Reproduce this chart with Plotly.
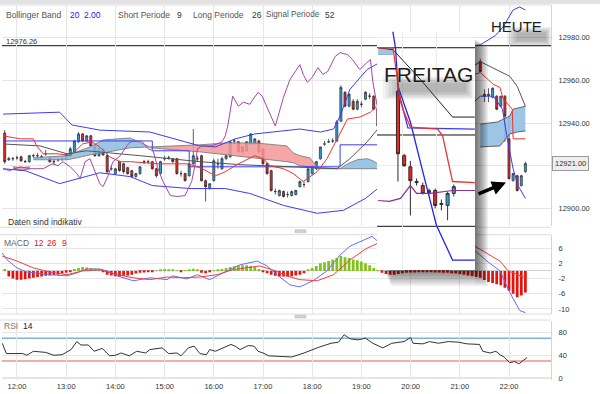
import pandas as pd
import plotly.graph_objects as go

FONT = "Liberation Sans, Arial, sans-serif"
DAY = "2013-01-07"
FRIDAY = "2013-01-04"
W, H = 600, 394

# ---------------- main price panel: 5-minute candles 11:45 .. 19:20 ----------------
cndl_open = [12935.3, 12922.8, 12923.3, 12923.7, 12924.2, 12921.9, 12921.9, 12924.7, 12924.7, 12924.2,
             12925.6, 12923.7, 12921.9, 12922.8, 12923.3, 12923.3, 12924.7, 12926.5, 12931.2, 12934.9,
             12931.6, 12934.0, 12929.3, 12924.7, 12927.9, 12924.7, 12918.6, 12916.3, 12921.9, 12920.9,
             12919.1, 12917.7, 12914.9, 12916.3, 12921.4, 12921.9, 12921.9, 12918.6, 12916.3, 12923.3,
             12923.7, 12923.3, 12923.3, 12916.3, 12916.3, 12915.3, 12920.9, 12923.3, 12924.7, 12913.0,
             12909.3, 12913.0, 12920.9, 12918.6, 12923.3, 12924.2, 12931.6, 12931.2, 12928.8, 12927.0,
             12930.2, 12930.2, 12931.6, 12927.9, 12920.9, 12917.7, 12907.9, 12906.0, 12907.9, 12906.5,
             12906.0, 12906.5, 12910.2, 12911.2, 12912.6, 12916.3, 12918.6, 12923.3, 12930.2, 12931.2,
             12931.6, 12931.6, 12940.9, 12954.4, 12947.9, 12950.2, 12946.5, 12948.8, 12951.2, 12952.6,
             12952.6, 12946.5]
cndl_high = [12936.7, 12924.2, 12924.2, 12924.7, 12924.7, 12922.8, 12925.1, 12925.6, 12926.0, 12925.1,
             12927.4, 12924.2, 12922.8, 12923.7, 12924.2, 12925.6, 12928.8, 12932.1, 12935.8, 12935.3,
             12934.4, 12934.4, 12929.8, 12928.8, 12928.4, 12925.6, 12920.0, 12918.6, 12922.3, 12921.4,
             12919.5, 12918.1, 12916.7, 12919.5, 12922.8, 12922.8, 12922.3, 12919.1, 12922.3, 12924.7,
             12924.7, 12923.7, 12923.7, 12917.7, 12916.7, 12920.9, 12937.2, 12924.7, 12925.1, 12913.5,
             12911.6, 12923.3, 12923.3, 12924.2, 12925.6, 12931.6, 12932.6, 12931.6, 12929.3, 12931.6,
             12935.3, 12932.6, 12932.1, 12928.4, 12921.4, 12918.1, 12909.3, 12908.8, 12908.4, 12907.9,
             12908.4, 12908.8, 12913.0, 12912.6, 12918.6, 12920.0, 12922.3, 12928.8, 12931.6, 12932.6,
             12933.0, 12941.4, 12957.7, 12954.9, 12954.0, 12951.2, 12951.2, 12950.2, 12954.9, 12954.0,
             12953.0, 12947.0]
cndl_low = [12920.9, 12922.3, 12922.3, 12922.8, 12921.9, 12921.4, 12921.4, 12923.7, 12923.7, 12923.3,
            12924.7, 12921.4, 12920.5, 12921.9, 12922.3, 12922.8, 12924.2, 12926.0, 12930.7, 12931.2,
            12931.2, 12928.8, 12924.2, 12924.2, 12924.7, 12916.3, 12917.7, 12915.8, 12917.2, 12916.3,
            12915.8, 12914.4, 12914.4, 12915.8, 12920.9, 12920.9, 12918.1, 12914.4, 12915.8, 12922.3,
            12922.8, 12921.4, 12915.8, 12914.9, 12912.6, 12914.9, 12920.5, 12921.9, 12912.6, 12903.3,
            12908.8, 12912.6, 12918.6, 12918.1, 12922.8, 12923.7, 12930.2, 12926.0, 12926.0, 12926.5,
            12929.8, 12929.8, 12926.0, 12920.5, 12915.8, 12907.9, 12906.5, 12905.6, 12905.1, 12905.1,
            12905.6, 12906.0, 12909.8, 12909.8, 12912.1, 12915.8, 12918.1, 12922.8, 12929.3, 12930.7,
            12930.7, 12931.2, 12940.5, 12947.4, 12947.4, 12946.0, 12946.0, 12947.4, 12950.7, 12951.2,
            12946.0, 12938.1]
cndl_close = [12921.9, 12923.3, 12923.3, 12923.7, 12922.3, 12921.9, 12924.7, 12924.7, 12924.7, 12924.2,
              12925.6, 12921.9, 12921.9, 12922.8, 12923.3, 12925.6, 12927.9, 12931.6, 12934.9, 12931.6,
              12934.0, 12929.3, 12924.7, 12927.9, 12925.1, 12917.2, 12918.6, 12918.6, 12917.7, 12917.2,
              12916.3, 12914.9, 12916.3, 12919.5, 12921.9, 12921.9, 12918.6, 12915.3, 12921.9, 12923.3,
              12923.7, 12921.9, 12916.3, 12916.3, 12913.0, 12920.9, 12924.7, 12923.3, 12913.0, 12910.2,
              12911.6, 12922.3, 12920.9, 12923.3, 12924.7, 12931.2, 12931.6, 12926.5, 12926.5, 12931.2,
              12934.9, 12932.6, 12926.5, 12920.9, 12916.3, 12908.4, 12907.9, 12908.4, 12905.6, 12906.5,
              12907.9, 12908.4, 12912.6, 12911.2, 12918.6, 12920.0, 12921.9, 12928.8, 12930.2, 12931.2,
              12931.6, 12940.5, 12956.7, 12947.9, 12953.5, 12946.5, 12950.2, 12948.8, 12954.4, 12952.6,
              12946.5, 12938.6]

# today's last hour, 21:25 .. 22:20
heute_open = [12968.8, 12953.5, 12953.5, 12952.1, 12952.6, 12947.9, 12952.6, 12932.6, 12913.0, 12915.3, 12910.7, 12917.2]
heute_high = [12970.2, 12955.8, 12956.3, 12956.7, 12953.0, 12952.6, 12953.0, 12943.3, 12916.7, 12915.8, 12915.8, 12921.9]
heute_low = [12963.7, 12949.8, 12949.8, 12951.6, 12946.0, 12947.4, 12931.2, 12913.5, 12912.6, 12907.9, 12910.2, 12916.7]
heute_close = [12964.2, 12952.6, 12953.0, 12956.3, 12946.5, 12952.6, 12943.3, 12914.0, 12916.3, 12908.4, 12915.3, 12921.0]

# Bollinger band (20, 2.00)
upper_t = ["11:43", "12:52", "13:07", "13:41", "14:42", "15:13", "15:43", "16:02", "16:26", "16:50", "17:45", "18:10",
           "18:26", "18:34", "18:46", "19:07", "19:20", "21:25", "21:43", "21:53", "22:05", "22:13", "22:20"]
upper_v = [12944.2, 12945.1, 12939.1, 12936.7, 12935.8, 12932.6, 12929.3, 12928.8, 12932.6, 12934.9, 12937.2, 12935.8,
           12937.2, 12943.3, 12955.8, 12965.1, 12967.9, 12976.7, 12980.9, 12985.1, 12993.0, 12994.4, 12993.0]
lower_t = ["11:43", "12:10", "12:52", "13:41", "14:18", "14:45", "15:31", "16:14", "16:44", "17:25", "18:06", "18:38",
           "19:05", "19:20", "21:25", "21:41", "21:52", "21:58", "22:05", "22:11", "22:20"]
lower_v = [12918.6, 12917.7, 12911.6, 12916.7, 12914.9, 12910.7, 12909.3, 12909.3, 12907.0, 12901.4, 12897.7, 12899.1,
           12904.7, 12909.3, 12952.6, 12952.6, 12946.5, 12932.6, 12918.6, 12910.7, 12904.7]
mid_t = ["11:43", "12:28", "13:01", "13:25", "14:30", "15:43", "16:32", "17:45", "18:30", "18:46", "19:07", "19:20",
         "21:25", "21:49", "22:01", "22:10", "22:20"]
mid_v = [12930.2, 12929.3, 12925.6, 12927.0, 12924.7, 12921.9, 12920.5, 12919.5, 12918.6, 12923.3, 12931.2, 12937.2,
         12968.8, 12964.2, 12961.9, 12957.2, 12947.9]

# Ichimoku lines (short 9 / long 26 / signal 52)
tenkan_t = ["11:43", "12:04", "12:20", "12:24", "12:32", "12:50", "13:05", "13:20", "13:31", "13:41", "13:53", "14:06",
            "14:18", "14:52", "15:29", "15:46", "16:02", "16:14", "16:30", "16:50", "17:00", "17:09", "17:25", "17:37",
            "17:49", "18:06", "18:18", "18:30", "18:43", "18:58", "19:11", "19:17", "19:20",
            "21:25", "21:41", "21:49", "21:53", "22:04", "22:05", "22:20"]
tenkan_v = [12934.0, 12932.6, 12932.6, 12929.3, 12925.6, 12925.6, 12924.7, 12930.2, 12931.2, 12928.8, 12924.2, 12921.9,
            12921.9, 12920.9, 12920.9, 12918.6, 12915.3, 12917.2, 12920.9, 12924.7, 12923.3, 12920.0, 12918.6, 12916.3,
            12912.6, 12917.2, 12923.3, 12932.6, 12941.9, 12942.8, 12945.1, 12947.4, 12946.5,
            12963.7, 12958.1, 12956.7, 12951.2, 12946.5, 12932.6, 12932.6]
kijun_t = ["11:43", "14:45", "15:30", "18:34", "19:20"]
kijun_v = [12931.6, 12927.0, 12919.5, 12929.8, 12929.8]
chikou_t = ["11:43", "11:51", "12:04", "12:16", "12:32", "12:43", "12:50", "12:56", "13:05", "13:13",
            "13:17", "13:23", "13:29", "13:35", "13:41", "13:45", "13:51", "13:57", "14:06", "14:14",
            "14:18", "14:32", "14:40", "14:46", "14:52", "14:58", "15:07", "15:16", "15:25", "15:33",
            "15:37", "15:40", "15:46", "15:58", "16:10", "16:14", "16:17", "16:23", "16:30", "16:36",
            "16:44", "16:48", "16:54", "16:59", "17:15", "17:25", "17:33", "17:45", "17:49", "17:54",
            "18:00", "18:07", "18:13", "18:19", "18:28", "18:34", "18:43", "18:49", "18:58", "19:07",
            "19:11", "19:14", "19:20"]
chikou_v = [12918.6, 12917.7, 12919.5, 12918.6, 12918.6, 12920.9, 12920.0, 12921.9, 12919.5, 12916.3,
            12914.0, 12921.9, 12923.3, 12917.2, 12911.6, 12910.2, 12915.3, 12921.9, 12924.7, 12929.3,
            12931.2, 12931.6, 12927.9, 12927.0, 12918.6, 12912.6, 12906.0, 12905.6, 12906.0, 12912.6,
            12920.0, 12927.9, 12929.3, 12929.3, 12931.2, 12934.0, 12938.6, 12952.6, 12947.9, 12949.8,
            12948.8, 12951.2, 12954.4, 12952.6, 12938.6, 12952.1, 12960.5, 12967.4, 12962.8, 12959.1,
            12961.4, 12966.0, 12962.8, 12964.2, 12971.2, 12973.0, 12972.1, 12969.8, 12965.1, 12968.4,
            12969.8, 12959.1, 12946.5]

# cloud segments (bottom / top edges)
red0_t = ["11:55", "12:05", "12:16"]
red0_bot = [12918.6, 12917.7, 12918.6]
red0_top = [12919.5, 12919.1, 12919.5]
blue1_t = ["12:20", "13:01", "13:13", "13:29", "13:45", "14:18", "14:42"]
blue1_bot = [12922.8, 12922.8, 12923.7, 12925.1, 12926.0, 12928.4, 12928.8]
blue1_top = [12923.7, 12924.7, 12926.5, 12928.8, 12932.1, 12933.0, 12928.8]
red1_t = ["14:42", "15:19", "15:43", "16:16", "16:50", "17:29", "17:37", "17:45", "17:57", "18:06"]
red1_bot = [12928.4, 12927.4, 12926.5, 12925.1, 12923.7, 12921.9, 12921.4, 12920.0, 12919.5, 12919.1]
red1_top = [12928.8, 12929.3, 12929.8, 12930.7, 12930.7, 12929.3, 12926.0, 12924.7, 12923.7, 12919.5]
blue2_t = ["18:06", "18:20", "18:34", "18:43", "18:55", "19:07", "19:14", "19:20"]
blue2_bot = [12918.6, 12918.6, 12918.6, 12918.6, 12918.6, 12918.6, 12918.6, 12918.6]
blue2_top = [12919.1, 12918.8, 12918.6, 12920.9, 12922.8, 12923.3, 12922.3, 12920.9]
blue3_bot_t = ["21:25", "21:49", "22:01", "22:10", "22:20"]
blue3_bot = [12928.8, 12929.3, 12934.9, 12935.8, 12936.3]
blue3_top_t = ["21:25", "21:46", "22:01", "22:05", "22:20"]
blue3_top = [12939.5, 12940.5, 12943.3, 12946.5, 12947.9]

# ---------------- MACD (12, 26, 9) ----------------
macd_t = ["11:42", "11:48", "12:00", "12:12", "12:40", "13:01", "13:13", "13:25", "13:41", "13:50", "14:02", "14:22",
          "14:42", "15:03", "15:10", "15:27", "15:40", "15:55", "16:16", "16:32", "16:53", "17:05", "17:17", "17:33",
          "17:45", "18:01", "18:18", "18:34", "18:46", "19:07", "19:13", "19:20",
          "21:19", "21:33", "21:49", "22:01", "22:13", "22:20"]
macd_v = [4.7, 2.9, 0.8, -0.3, -1.0, -1.3, -0.5, 0.5, 0.5, 0.0, -1.3, -2.6,
          -1.8, -2.3, -1.3, -2.1, -1.0, -2.3, 0.0, 1.6, 2.6, 1.3, -1.0, -3.7,
          -4.2, -2.6, 0.0, 4.2, 6.5, 8.6, 9.1, 7.8,
          5.2, 2.6, 0.0, -5.7, -10.4, -11.0]
signal_t = ["11:42", "12:00", "12:20", "12:40", "13:01", "13:20", "13:41", "14:02", "14:22", "14:42", "15:03", "15:23",
            "15:43", "16:04", "16:23", "16:56", "17:12", "17:29", "17:45", "18:06", "18:26", "18:46", "19:07", "19:20",
            "21:16", "21:33", "21:49", "21:59", "22:20"]
signal_v = [3.9, 2.6, 0.8, -0.3, -1.0, 0.0, 0.3, -1.0, -1.8, -2.3, -1.6, -1.8,
            -1.6, -1.0, 0.3, 1.3, 0.3, -1.3, -2.3, -2.6, -1.0, 2.9, 6.0, 7.3,
            6.8, 4.7, 2.6, 0.0, -1.8]
# histogram, one bar per 5-minute candle from 11:45 to 22:20
hist_v = [0.5, -1.5, -2.0, -2.3, -2.3, -2.2, -2.0, -1.8, -1.6, -1.5,
          -1.3, -1.2, -1.1, -1.0, -0.7, -0.5, -0.2, 0.5, 0.8, 1.0,
          0.9, 0.8, 0.6, 0.2, -0.2, -1.0, -1.2, -1.4, -1.5, -1.3,
          -1.2, -1.0, -0.7, -0.5, -0.4, -0.3, -0.2, 0.1, 0.2, 0.5,
          0.4, 0.3, 0.1, -0.1, 0.1, 0.4, 0.6, 0.2, -0.5, -0.6,
          -0.3, 0.05, 0.2, 0.5, 0.8, 1.0, 1.2, 1.4, 1.5, 1.5,
          1.3, 1.0, 0.5, -0.2, -0.6, -1.0, -1.3, -1.5, -1.5, -1.5,
          -1.4, -1.2, -1.0, -0.6, 0.3, 0.8, 1.3, 2.0, 2.3, 2.6,
          3.0, 3.4, 3.9, 3.6, 3.4, 3.0, 2.8, 2.5, 2.0, 1.5,
          0.8, 0.2,
          -0.5, -0.8, -1.0, -1.0, -0.8, -0.6, -0.5, -0.4, -0.4, -0.3,
          -0.3, -0.3, -0.3, -0.4, -0.4, -0.5, -0.5, -0.6, -0.7, -0.8,
          -1.0, -1.2, -1.4, -1.6,
          -1.8, -2.4, -2.9, -3.2, -3.5, -3.8, -4.4, -5.2, -6.0, -6.9, -6.5, -5.7]

# ---------------- RSI (14) ----------------
rsi_t = ["11:42", "11:47", "12:07", "12:12", "12:20", "12:35", "12:45", "12:55", "13:06",
         "13:13", "13:18", "13:27", "13:34", "13:44", "13:53", "14:00", "14:07", "14:17", "14:26",
         "14:37", "14:42", "14:57", "15:05", "15:15", "15:20", "15:29", "15:36", "15:43", "15:51",
         "15:55", "16:02", "16:11", "16:21", "16:26", "16:32", "16:42", "16:49", "16:54", "17:00",
         "17:07", "17:35", "17:50", "18:00", "18:08", "18:23", "18:32", "18:39", "18:46", "18:56",
         "19:05", "19:14", "19:26", "19:37", "19:52", "20:00", "20:03", "20:15", "20:23", "20:34",
         "20:46", "20:58", "21:09", "21:24", "21:28", "21:37", "21:44", "21:49", "21:54", "22:01",
         "22:07", "22:12", "22:22"]
rsi_v = [61, 43, 43, 40, 47, 45, 40, 41, 50,
         64, 58, 58, 47, 52, 39, 40, 44, 39, 47,
         44, 50, 53, 43, 44, 39, 53, 56, 43, 41,
         50, 47, 53, 59, 56, 50, 57, 56, 47, 44,
         39, 37, 44, 50, 54, 61, 63, 76, 69, 67,
         70, 61, 53, 61, 64, 71, 61, 60, 64, 61,
         64, 63, 60, 59, 47, 44, 47, 41, 37, 27,
         29, 25, 36]

# ---------------- FREITAG inset (Friday close-up) ----------------
fri_open = [12954.9, 12924.7, 12919.5, 12912.6, 12910.7, 12907.4, 12908.4, 12902.3, 12901.4, 12907.0]
fri_high = [12956.7, 12925.6, 12922.3, 12914.0, 12912.1, 12909.3, 12909.3, 12904.2, 12907.9, 12911.2]
fri_low = [12912.6, 12919.5, 12896.7, 12910.7, 12906.5, 12906.5, 12900.0, 12899.1, 12894.4, 12905.6]
fri_close = [12925.6, 12920.0, 12913.0, 12912.1, 12907.0, 12908.4, 12901.4, 12901.9, 12907.0, 12910.2]
fri_red_t = ["18:59", "19:11", "19:17", "19:19", "19:25", "19:47", "19:51", "19:59", "20:17"]
fri_red_v = [12975.3, 12975.3, 12950.2, 12946.5, 12938.1, 12937.2, 12934.0, 12912.6, 12912.1]
fri_lower_t = ["19:10", "19:13", "19:15", "19:25", "19:35", "19:46", "19:59", "20:17"]
fri_lower_v = [12986.0, 12975.3, 12957.2, 12940.5, 12917.2, 12892.1, 12875.8, 12875.8]
fri_kijun_t = ["19:15", "19:23", "20:17"]
fri_kijun_v = [12955.8, 12937.7, 12937.2]
fri_mid_t = ["18:59", "19:11", "19:33", "19:59", "20:17"]
fri_mid_v = [12975.3, 12974.4, 12960.5, 12942.8, 12942.8]
fri_chikou_t = ["18:59", "19:08", "19:17", "19:25", "19:30", "19:41", "19:59", "20:17"]
fri_chikou_v = [12903.7, 12903.3, 12904.7, 12910.7, 12907.0, 12907.0, 12908.4, 12908.4]
fri_cloud_t = ["18:59", "19:11"]
fri_cloud_bot = [12972.1, 12972.1]
fri_cloud_top = [12975.3, 12975.3]
fri_levels = [12975.3, 12934.4, 12891.6]

level_line = 12976.26
last_price = 12921.0
price_ticks = [12900, 12920, 12940, 12960, 12980]
price_ticktext = ["12900.00", "", "12940.00", "12960.00", "12980.00"]
macd_ticks = [-10, -6, -2, 2, 6]
rsi_ticks = [0, 40, 80]
time_ticks = ["12:00", "13:00", "14:00", "15:00", "16:00", "17:00", "18:00", "19:00", "20:00", "21:00", "22:00"]


def T(hms, day=DAY):
    return [f"{day} {h}" for h in hms]


def px(x):
    return x / W


def py(y):
    return 1 - y / H


fig = go.Figure()


def line(t, v, color, width=1.0, xa="x", ya="y", day=DAY, shape="linear"):
    fig.add_trace(go.Scatter(x=T(t, day), y=v, mode="lines", line=dict(color=color, width=width, shape=shape),
                             xaxis=xa, yaxis=ya, hoverinfo="skip", showlegend=False))


def cloud(tb, vb, tt, vt, fill, edge="#7d7d7d", xa="x", ya="y", day=DAY):
    fig.add_trace(go.Scatter(x=T(tb, day), y=vb, mode="lines", line=dict(color=edge, width=0.9),
                             xaxis=xa, yaxis=ya, hoverinfo="skip", showlegend=False))
    fig.add_trace(go.Scatter(x=T(tt, day), y=vt, mode="lines", line=dict(color=edge, width=0.9),
                             fill="tonexty", fillcolor=fill, xaxis=xa, yaxis=ya, hoverinfo="skip", showlegend=False))


BLUE_CLOUD = "rgba(140,188,226,0.85)"
RED_CLOUD = "rgba(245,150,150,0.85)"
BAND = "#3c3cf5"
RED = "#f03232"
PURPLE = "#a447a8"

# ---- main panel ----
cloud(red0_t, red0_bot, red0_t, red0_top, RED_CLOUD)
cloud(blue1_t, blue1_bot, blue1_t, blue1_top, BLUE_CLOUD)
cloud(red1_t, red1_bot, red1_t, red1_top, RED_CLOUD)
cloud(blue2_t, blue2_bot, blue2_t, blue2_top, BLUE_CLOUD)
cloud(blue3_bot_t, blue3_bot, blue3_top_t, blue3_top, BLUE_CLOUD, edge="#555555")
line(upper_t, upper_v, BAND)
line(lower_t, lower_v, BAND)
line(kijun_t, kijun_v, BAND, shape="hv")
line(mid_t, mid_v, "#555555")
line(chikou_t, chikou_v, PURPLE)
line(tenkan_t, tenkan_v, RED)

main_times = list(pd.date_range(f"{DAY} 11:45", periods=len(cndl_open), freq="5min"))
heute_times = list(pd.date_range(f"{DAY} 21:25", periods=len(heute_open), freq="5min"))
fig.add_trace(go.Candlestick(
    x=main_times + heute_times, open=cndl_open + heute_open, high=cndl_high + heute_high,
    low=cndl_low + heute_low, close=cndl_close + heute_close,
    increasing=dict(line=dict(color="#2d3a44", width=0.8), fillcolor="#2f9ed8"),
    decreasing=dict(line=dict(color="#3a2626", width=0.8), fillcolor="#e52a2a"),
    xaxis="x", yaxis="y", showlegend=False, hoverinfo="skip", whiskerwidth=0))

# ---- MACD panel ----
hist_times = list(pd.date_range(f"{DAY} 11:45", periods=len(hist_v), freq="5min"))
fig.add_trace(go.Bar(x=hist_times, y=hist_v, width=200000,
                     marker=dict(color=["#7fc31c" if v > 0 else "#e3140f" for v in hist_v], line=dict(width=0)),
                     xaxis="x2", yaxis="y2", hoverinfo="skip", showlegend=False))
line(macd_t, macd_v, "#6a6af5", xa="x2", ya="y2")
line(signal_t, signal_v, "#f04040", xa="x2", ya="y2")

# ---- RSI panel ----
line(rsi_t, rsi_v, "#333333", xa="x3", ya="y3")

# ---- FREITAG inset ----
cloud(fri_cloud_t, fri_cloud_bot, fri_cloud_t, fri_cloud_top, BLUE_CLOUD, edge="#9ab", xa="x4", ya="y4", day=FRIDAY)
line(fri_mid_t, fri_mid_v, "#222222", xa="x4", ya="y4", day=FRIDAY)
line(fri_lower_t, fri_lower_v, "#2222ee", width=1.3, xa="x4", ya="y4", day=FRIDAY)
line(fri_kijun_t, fri_kijun_v, "#3a3af5", width=1.3, xa="x4", ya="y4", day=FRIDAY)
line(fri_red_t, fri_red_v, RED, width=1.3, xa="x4", ya="y4", day=FRIDAY)
line(fri_chikou_t, fri_chikou_v, "#8e2f8e", width=1.2, xa="x4", ya="y4", day=FRIDAY)
fri_times = list(pd.date_range(f"{FRIDAY} 19:15", periods=len(fri_open), freq="5min"))
fig.add_trace(go.Candlestick(
    x=fri_times, open=fri_open, high=fri_high, low=fri_low, close=fri_close,
    increasing=dict(line=dict(color="#2d3a44", width=1), fillcolor="#2f9ed8"),
    decreasing=dict(line=dict(color="#3a2626", width=1), fillcolor="#e52a2a"),
    xaxis="x4", yaxis="y4", showlegend=False, hoverinfo="skip", whiskerwidth=0))

# ---------------- axes ----------------
XR = [f"{DAY} 11:41:43", f"{DAY} 22:51:13"]
GRID = "#e6e6e6"
TICKFONT = dict(family=FONT, size=7.5, color="#333333")
xbase = dict(type="date", range=XR, showgrid=True, gridcolor=GRID, gridwidth=1, tickvals=T(time_ticks),
             zeroline=False, showline=False, rangeslider=dict(visible=False), fixedrange=True,
             domain=[px(2), px(551)], ticks="", ticklen=0)
ybase = dict(side="right", showgrid=True, gridcolor=GRID, zeroline=False, ticks="", ticklen=0, tickfont=TICKFONT,
             showline=True, linecolor="#d4d4d4", linewidth=1, fixedrange=True, ticklabelstandoff=5)

fig.update_layout(
    width=W, height=H, margin=dict(l=0, r=0, t=0, b=0),
    paper_bgcolor="white", plot_bgcolor="white", showlegend=False, hovermode=False,
    font=dict(family=FONT),
    xaxis=dict(**xbase, anchor="y", showticklabels=False),
    xaxis2=dict(**xbase, anchor="y2", matches="x", showticklabels=False),
    xaxis3=dict(**xbase, anchor="y3", matches="x", showticklabels=True, ticktext=time_ticks, tickfont=TICKFONT),
    yaxis=dict(**ybase, domain=[py(228), py(5)], range=[12891.63, 12995.35], anchor="x",
               tickvals=price_ticks, ticktext=price_ticktext),
    yaxis2=dict(**ybase, domain=[py(316), py(237)], range=[-11.23, 9.40], anchor="x2",
                tickvals=macd_ticks, ticktext=[str(v) for v in macd_ticks]),
    yaxis3=dict(**ybase, domain=[py(383), py(323)], range=[-3.48, 100.87], anchor="x3",
                tickvals=rsi_ticks, ticktext=[str(v) for v in rsi_ticks]),
    xaxis4=dict(type="date", domain=[px(377), px(475)], range=[f"{FRIDAY} 18:58:06", f"{FRIDAY} 20:17:06"],
                anchor="y4", showticklabels=False, showgrid=True, gridcolor="#ececec",
                tickvals=T(["19:19", "19:46"], FRIDAY), zeroline=False, showline=False, ticks="",
                rangeslider=dict(visible=False), fixedrange=True),
    yaxis4=dict(domain=[py(272), py(32)], range=[12871.16, 12982.79], anchor="x4", showticklabels=False,
                showgrid=True, gridcolor="#ececec", tickvals=price_ticks, zeroline=False, showline=False,
                ticks="", fixedrange=True),
)
fig.update_yaxes(selector=dict(anchor="x2"), zeroline=True, zerolinecolor="#d0d0d0", zerolinewidth=1)

# ---------------- shapes ----------------
shapes = []
# top strip
shapes.append(dict(type="rect", xref="paper", yref="paper", x0=0, x1=1, y0=py(4), y1=1,
                   fillcolor="#e2e2e2", line=dict(width=0), layer="below"))
# panel separators
for yy in (5, 229, 236.5, 316.5, 322.5):
    shapes.append(dict(type="line", xref="paper", yref="paper", x0=0, x1=px(551), y0=py(yy), y1=py(yy),
                       line=dict(color="#dddddd", width=1), layer="below"))
for yy in (233, 319):
    shapes.append(dict(type="rect", xref="paper", yref="paper", x0=px(295), x1=px(306), y0=py(yy + 1.5),
                       y1=py(yy - 1.5), fillcolor="#d0d0d0", line=dict(color="#bbbbbb", width=0.5), layer="below"))
# 12976.26 reference line
shapes.append(dict(type="line", xref="x", yref="y", x0=XR[0], x1=XR[1], y0=level_line, y1=level_line,
                   line=dict(color="#111111", width=1), layer="below"))
# RSI 70 / 30 lines
shapes.append(dict(type="line", xref="paper", yref="y3", x0=px(2), x1=px(551), y0=70, y1=70,
                   line=dict(color="#7fb3da", width=1.5), layer="below"))
shapes.append(dict(type="line", xref="paper", yref="y3", x0=px(2), x1=px(551), y0=30, y1=30,
                   line=dict(color="#f39090", width=1.5), layer="below"))
shapes.append(dict(type="line", xref="paper", yref="y3", x0=px(2), x1=px(551), y0=0, y1=0,
                   line=dict(color="#a9c8e0", width=1), layer="below"))
# black level lines inside the FREITAG inset
for lv in fri_levels:
    shapes.append(dict(type="line", xref="x4", yref="y4", x0=f"{FRIDAY} 18:58:06", x1=f"{FRIDAY} 20:17:06",
                       y0=lv, y1=lv, line=dict(color="#111111", width=1), layer="below"))


def prect(x0, y0, x1, y1, color):
    return dict(type="rect", xref="paper", yref="paper", x0=px(x0), x1=px(x1), y0=py(y1), y1=py(y0),
                fillcolor=color, line=dict(width=0), layer="above")


# drop shadow of the inset (right and bottom)
for i in range(8):
    w = 1.6 * (i + 1)
    h = 2.0 * (i + 1)
    shapes.append(prect(475, 40 + i, 475 + w, 272 + h, "rgba(0,0,0,0.085)"))
    shapes.append(prect(384 + i, 272, 475, 272 + h, "rgba(0,0,0,0.07)"))
# blurred shadow under FREITAG
for i in range(6):
    shapes.append(prect(398 - 3 * i, 84 - 1.4 * i, 466 + 1.5 * i, 93 + 1.4 * i, "rgba(60,60,60,0.07)"))
# blurred shadow behind HEUTE
for i in range(6):
    shapes.append(prect(517 - 2 * i, 33 - 1.2 * i, 546 + 1 * i, 41 + 1.2 * i, "rgba(60,60,60,0.08)"))
fig.update_layout(shapes=shapes)

# ---------------- annotations ----------------
ann = []


def txt(x, y, s, size=9, color="#555555", xanchor="left"):
    ann.append(dict(xref="paper", yref="paper", x=px(x), y=py(y), text=s, showarrow=False, xanchor=xanchor,
                    yanchor="middle", font=dict(family=FONT, size=size, color=color), borderpad=0))


txt(5, 15, "Bollinger Band", size=8.5)
txt(69, 15, "20", size=8.5, color="#2424e8")
txt(83, 15, "2.00", size=8.5, color="#2424e8")
txt(117, 15, "Short Periode", size=8.5)
txt(176, 15, "9", size=8.5, color="#333333")
txt(192, 15, "Long Periode", size=8.5)
txt(251, 15, "26", size=8.5, color="#333333")
txt(265, 15, "Signal Periode", size=8.2)
txt(324, 15, "52", size=8.5, color="#333333")
txt(5, 41.5, "12976.26", size=7.5, color="#333333")
txt(7, 224, "Daten sind indikativ", size=8.5, color="#333333")
txt(3, 245, "MACD", size=8.5, color="#666666")
txt(33, 245, "12", size=8.5, color="#e02020")
txt(46, 245, "26", size=8.5, color="#e02020")
txt(61, 245, "9", size=8.5, color="#e02020")
txt(3, 329, "RSI", size=8.5, color="#777777")
txt(22, 329, "14", size=8.5, color="#222222")
txt(428, 75, "FREITAG", size=21, color="#1c1c1c", xanchor="center")
txt(516, 26.5, "HEUTE", size=15, color="#1c1c1c", xanchor="center")
ann.append(dict(xref="paper", yref="y", x=px(552), y=last_price, text="12921.00", showarrow=False,
                xanchor="left", yanchor="middle", font=dict(family=FONT, size=7.5, color="#333333"),
                bgcolor="#eeeeee", bordercolor="#999999", borderwidth=1, borderpad=2))
ann.append(dict(xref="paper", yref="paper", x=px(506), y=py(184), ax=-29, ay=12, axref="pixel", ayref="pixel",
                text="", showarrow=True, arrowhead=2, arrowsize=0.8, arrowwidth=3.5, arrowcolor="#000000"))
fig.update_layout(annotations=ann)

fig.write_html("out.html", config={"displayModeBar": False},
               post_script="document.body.style.margin='0px';")
